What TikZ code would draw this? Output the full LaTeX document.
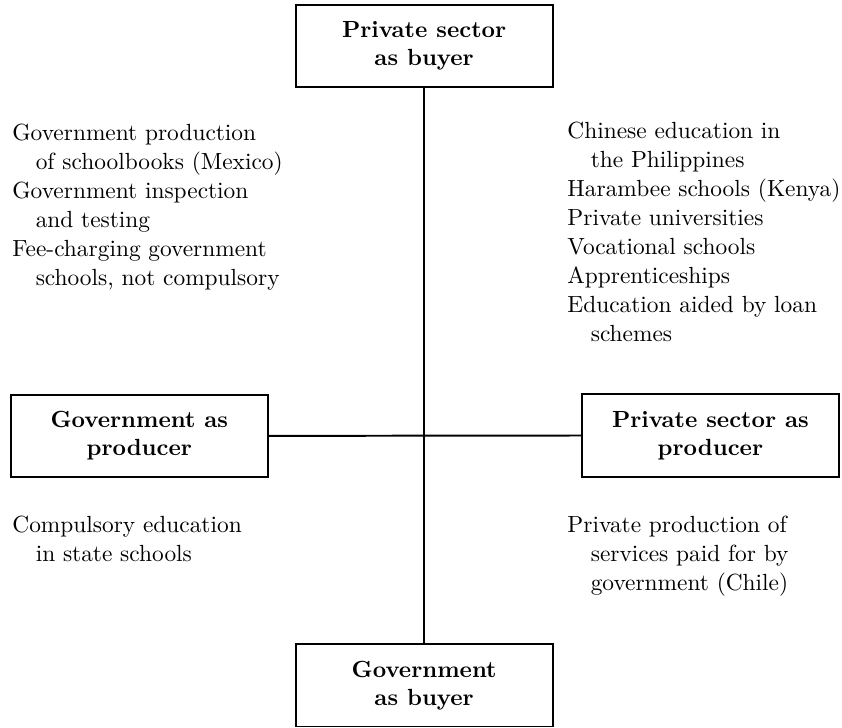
\documentclass[tikz,border=0pt]{standalone}
\usetikzlibrary{positioning}
\tikzset{
  every node/.style={font=\fontsize{9.5}{11.8}\selectfont},
  role/.style={draw=black, line width=0.8pt, fill=white, minimum width=3.67cm, minimum height=1.18cm,
               inner sep=2pt, align=center, font=\fontsize{9.5}{11.4}\selectfont\bfseries},
  cases/.style={anchor=north west, inner sep=0pt, align=left},
  axis/.style={draw=black, line width=0.8pt},
}
% continuation lines hang under the first word
\newcommand{\wrapin}{\hspace*{9.5pt}}

\begin{document}
\begin{tikzpicture}
\useasboundingbox (0,0) rectangle (12.03,-10.4);

% the four roles
\node[role] (pbuy)  at (6.06,-0.66) {Private sector\\as buyer};
\node[role] (gbuy)  at (6.06,-9.79) {Government\\as buyer};
\node[role] (gprod) at (1.99,-6.23) {Government as\\producer};
\node[role] (pprod) at (10.15,-6.22) {Private sector as\\producer};

\draw[axis] (pbuy) -- (gbuy);
\draw[axis] (gprod) -- (pprod);

% examples in each quadrant
\node[cases] (nw) at (0.17,-1.76) {Government production\\
  \wrapin of schoolbooks (Mexico)\\
  Government inspection\\
  \wrapin and testing\\
  Fee-charging government\\
  \wrapin schools, not compulsory};
\node[cases] (ne) at (8.1,-1.74) {Chinese education in\\
  \wrapin the Philippines\\
  Harambee schools (Kenya)\\
  Private universities\\
  Vocational schools\\
  Apprenticeships\\
  Education aided by loan\\
  \wrapin schemes};
\node[cases] (sw) at (0.17,-7.37) {Compulsory education\\
  \wrapin in state schools};
\node[cases] (se) at (8.1,-7.37) {Private production of\\
  \wrapin services paid for by\\
  \wrapin government (Chile)};

\end{tikzpicture}
\end{document}
